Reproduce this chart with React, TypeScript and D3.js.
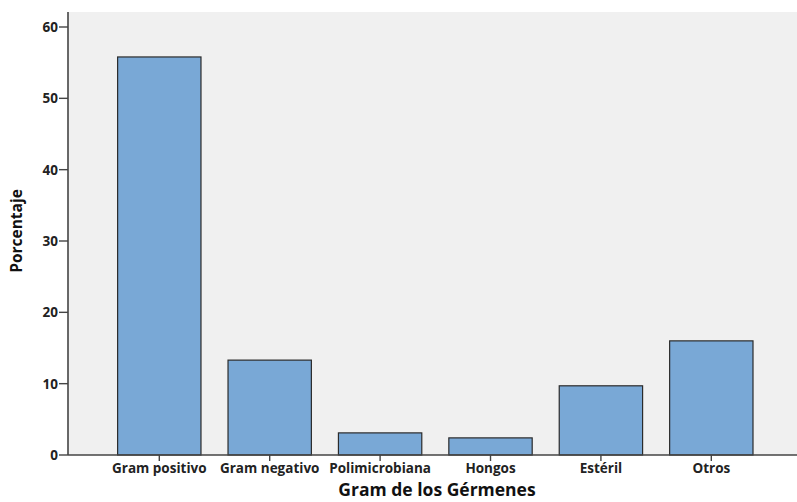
import React from "react";
import * as d3 from "d3";

const categories = ["Gram positivo", "Gram negativo", "Polimicrobiana", "Hongos", "Estéril", "Otros"];
const values = [55.8, 13.3, 3.1, 2.4, 9.7, 16.0];
const yTicks = [0, 10, 20, 30, 40, 50, 60];

const W = 797;
const H = 502;
const left = 68;
const right = 797;
const top = 12;
const bottom = 455;

export default function App() {
  const x = d3
    .scaleBand<string>()
    .domain(categories)
    .range([left, right])
    .paddingInner(0.245)
    .paddingOuter(0.424)
    .align(0.53);
  const y = d3.scaleLinear().domain([0, 60]).range([bottom, 27]);
  const font = "'Open Sans', 'DejaVu Sans', sans-serif";
  return (
    <svg width={W} height={H} style={{ position: "absolute", left: 0, top: 0 }}>
      <rect x={0} y={0} width={W} height={H} fill="#ffffff" />
      <rect x={left} y={top} width={right - left} height={bottom - top} fill="#f0f0f0" />
      {categories.map((c, i) => (
        <rect
          key={c}
          x={x(c)}
          y={y(values[i])}
          width={x.bandwidth()}
          height={y(0) - y(values[i])}
          fill="#79a8d6"
          stroke="#2b2b2b"
          strokeWidth={1.2}
        />
      ))}
      <line x1={left} x2={left} y1={top} y2={bottom} stroke="#444" strokeWidth={1.6} />
      <line x1={left} x2={right} y1={bottom} y2={bottom} stroke="#444" strokeWidth={1.6} />
      {yTicks.map((t) => (
        <g key={t}>
          <line x1={left - 9} x2={left} y1={y(t)} y2={y(t)} stroke="#444" strokeWidth={1.4} />
          <text
            x={left - 10}
            y={y(t)}
            dy="0.36em"
            textAnchor="end"
            fontFamily={font}
            fontWeight={700}
            fontSize={13.5}
            fill="#222"
          >
            {t}
          </text>
        </g>
      ))}
      {categories.map((c) => {
        const cx = (x(c) as number) + x.bandwidth() / 2;
        return (
          <g key={c}>
            <line x1={cx} x2={cx} y1={bottom} y2={bottom + 6} stroke="#444" strokeWidth={1.4} />
            <text
              x={cx}
              y={bottom + 18}
              textAnchor="middle"
              fontFamily={font}
              fontWeight={700}
              fontSize={13.5}
              fill="#222"
            >
              {c}
            </text>
          </g>
        );
      })}
      <text
        transform={`translate(22, 231) rotate(-90)`}
        textAnchor="middle"
        fontFamily={font}
        fontWeight={700}
        fontSize={15.5}
        fill="#111"
      >
        Porcentaje
      </text>
      <text
        x={437}
        y={496}
        textAnchor="middle"
        fontFamily={font}
        fontWeight={700}
        fontSize={17.5}
        fill="#111"
      >
        Gram de los Gérmenes
      </text>
    </svg>
  );
}
